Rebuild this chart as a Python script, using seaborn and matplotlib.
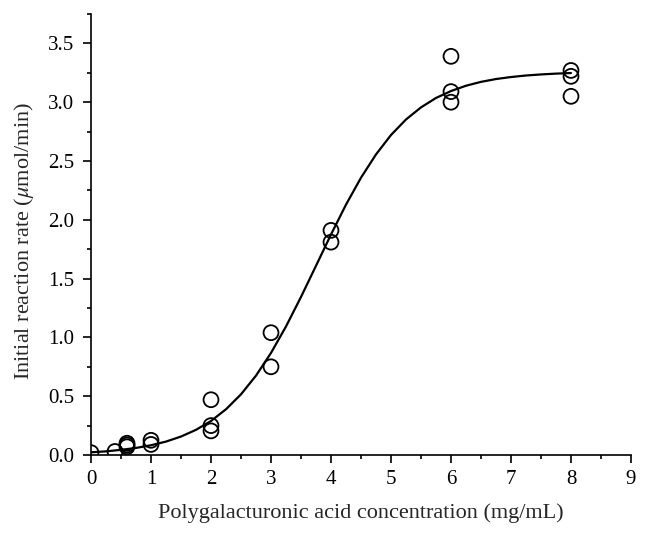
import numpy as np
import pandas as pd
import matplotlib
matplotlib.use("Agg")
import matplotlib.pyplot as plt
import seaborn as sns
from matplotlib.ticker import MultipleLocator

# Measured points
conc = [0, 0.4, 0.6, 0.6, 0.6, 1, 1, 2, 2, 2, 3, 3, 4, 4, 6, 6, 6, 8, 8, 8]
rate = [0.02, 0.03, 0.07, 0.085, 0.10, 0.09, 0.125, 0.47, 0.25, 0.205,
        1.04, 0.75, 1.91, 1.81, 3.39, 3.09, 3.00, 3.27, 3.22, 3.05]

# Fitted curve
curve_x = [0, 0.25, 0.5, 0.75, 1.0, 1.25, 1.5, 1.75, 2.0, 2.25, 2.5, 2.75, 3.0,
           3.25, 3.5, 3.75, 4.0, 4.25, 4.5, 4.75, 5.0, 5.25, 5.5, 5.75, 6.0,
           6.25, 6.5, 6.75, 7.0, 7.25, 7.5, 7.75, 8.0]
curve_y = [0.023, 0.031, 0.044, 0.060, 0.083, 0.114, 0.157, 0.214, 0.289, 0.389,
           0.516, 0.675, 0.868, 1.093, 1.344, 1.609, 1.875, 2.129, 2.358, 2.556,
           2.721, 2.853, 2.956, 3.036, 3.095, 3.140, 3.173, 3.197, 3.214, 3.227,
           3.236, 3.243, 3.248]

x_ticks = [0, 1, 2, 3, 4, 5, 6, 7, 8, 9]
y_ticks = [0.0, 0.5, 1.0, 1.5, 2.0, 2.5, 3.0, 3.5]

sns.set_style("ticks")
plt.rcParams['font.family'] = ['Liberation Serif', 'DejaVu Serif']
plt.rcParams['mathtext.fontset'] = 'stix'

fig = plt.figure(figsize=(6.51, 5.39), dpi=100)
ax = fig.add_axes([91/651, 1 - 455/539, (631-91)/651, (455-14)/539])

pts = pd.DataFrame({"x": conc, "y": rate})
cur = pd.DataFrame({"x": curve_x, "y": curve_y})

sns.lineplot(data=cur, x="x", y="y", ax=ax, color="black", linewidth=1.6,
             estimator=None, sort=False)
sns.scatterplot(data=pts, x="x", y="y", ax=ax, marker="o", s=115,
                facecolor="none", edgecolor="black", linewidth=1.3, zorder=3)

ax.set_xlim(0, 9)
ax.set_ylim(0, 3.75)
ax.set_xticks(x_ticks)
ax.set_yticks(y_ticks)
ax.set_yticklabels([f"{v:.1f}" for v in y_ticks])
ax.xaxis.set_minor_locator(MultipleLocator(0.5))
ax.yaxis.set_minor_locator(MultipleLocator(0.25))
ax.tick_params(which="major", length=6, width=1.2, color="black",
               labelsize=15, labelcolor="black", direction="out")
ax.tick_params(axis="y", which="major", pad=6)
ax.tick_params(axis="x", which="major", pad=5)
ax.tick_params(which="minor", length=3, width=1.2, color="black", direction="out")
for side in ["top", "right"]:
    ax.spines[side].set_visible(False)
for side in ["left", "bottom"]:
    ax.spines[side].set_linewidth(1.2)
    ax.spines[side].set_color("black")

ax.set_xlabel("Polygalacturonic acid concentration (mg/mL)", fontsize=16, labelpad=10)
ax.set_ylabel(r"Initial reaction rate ($\mu$mol/min)", fontsize=16)
ax.yaxis.set_label_coords(-0.102, 0.485)

fig.savefig("out.png", dpi=100)
